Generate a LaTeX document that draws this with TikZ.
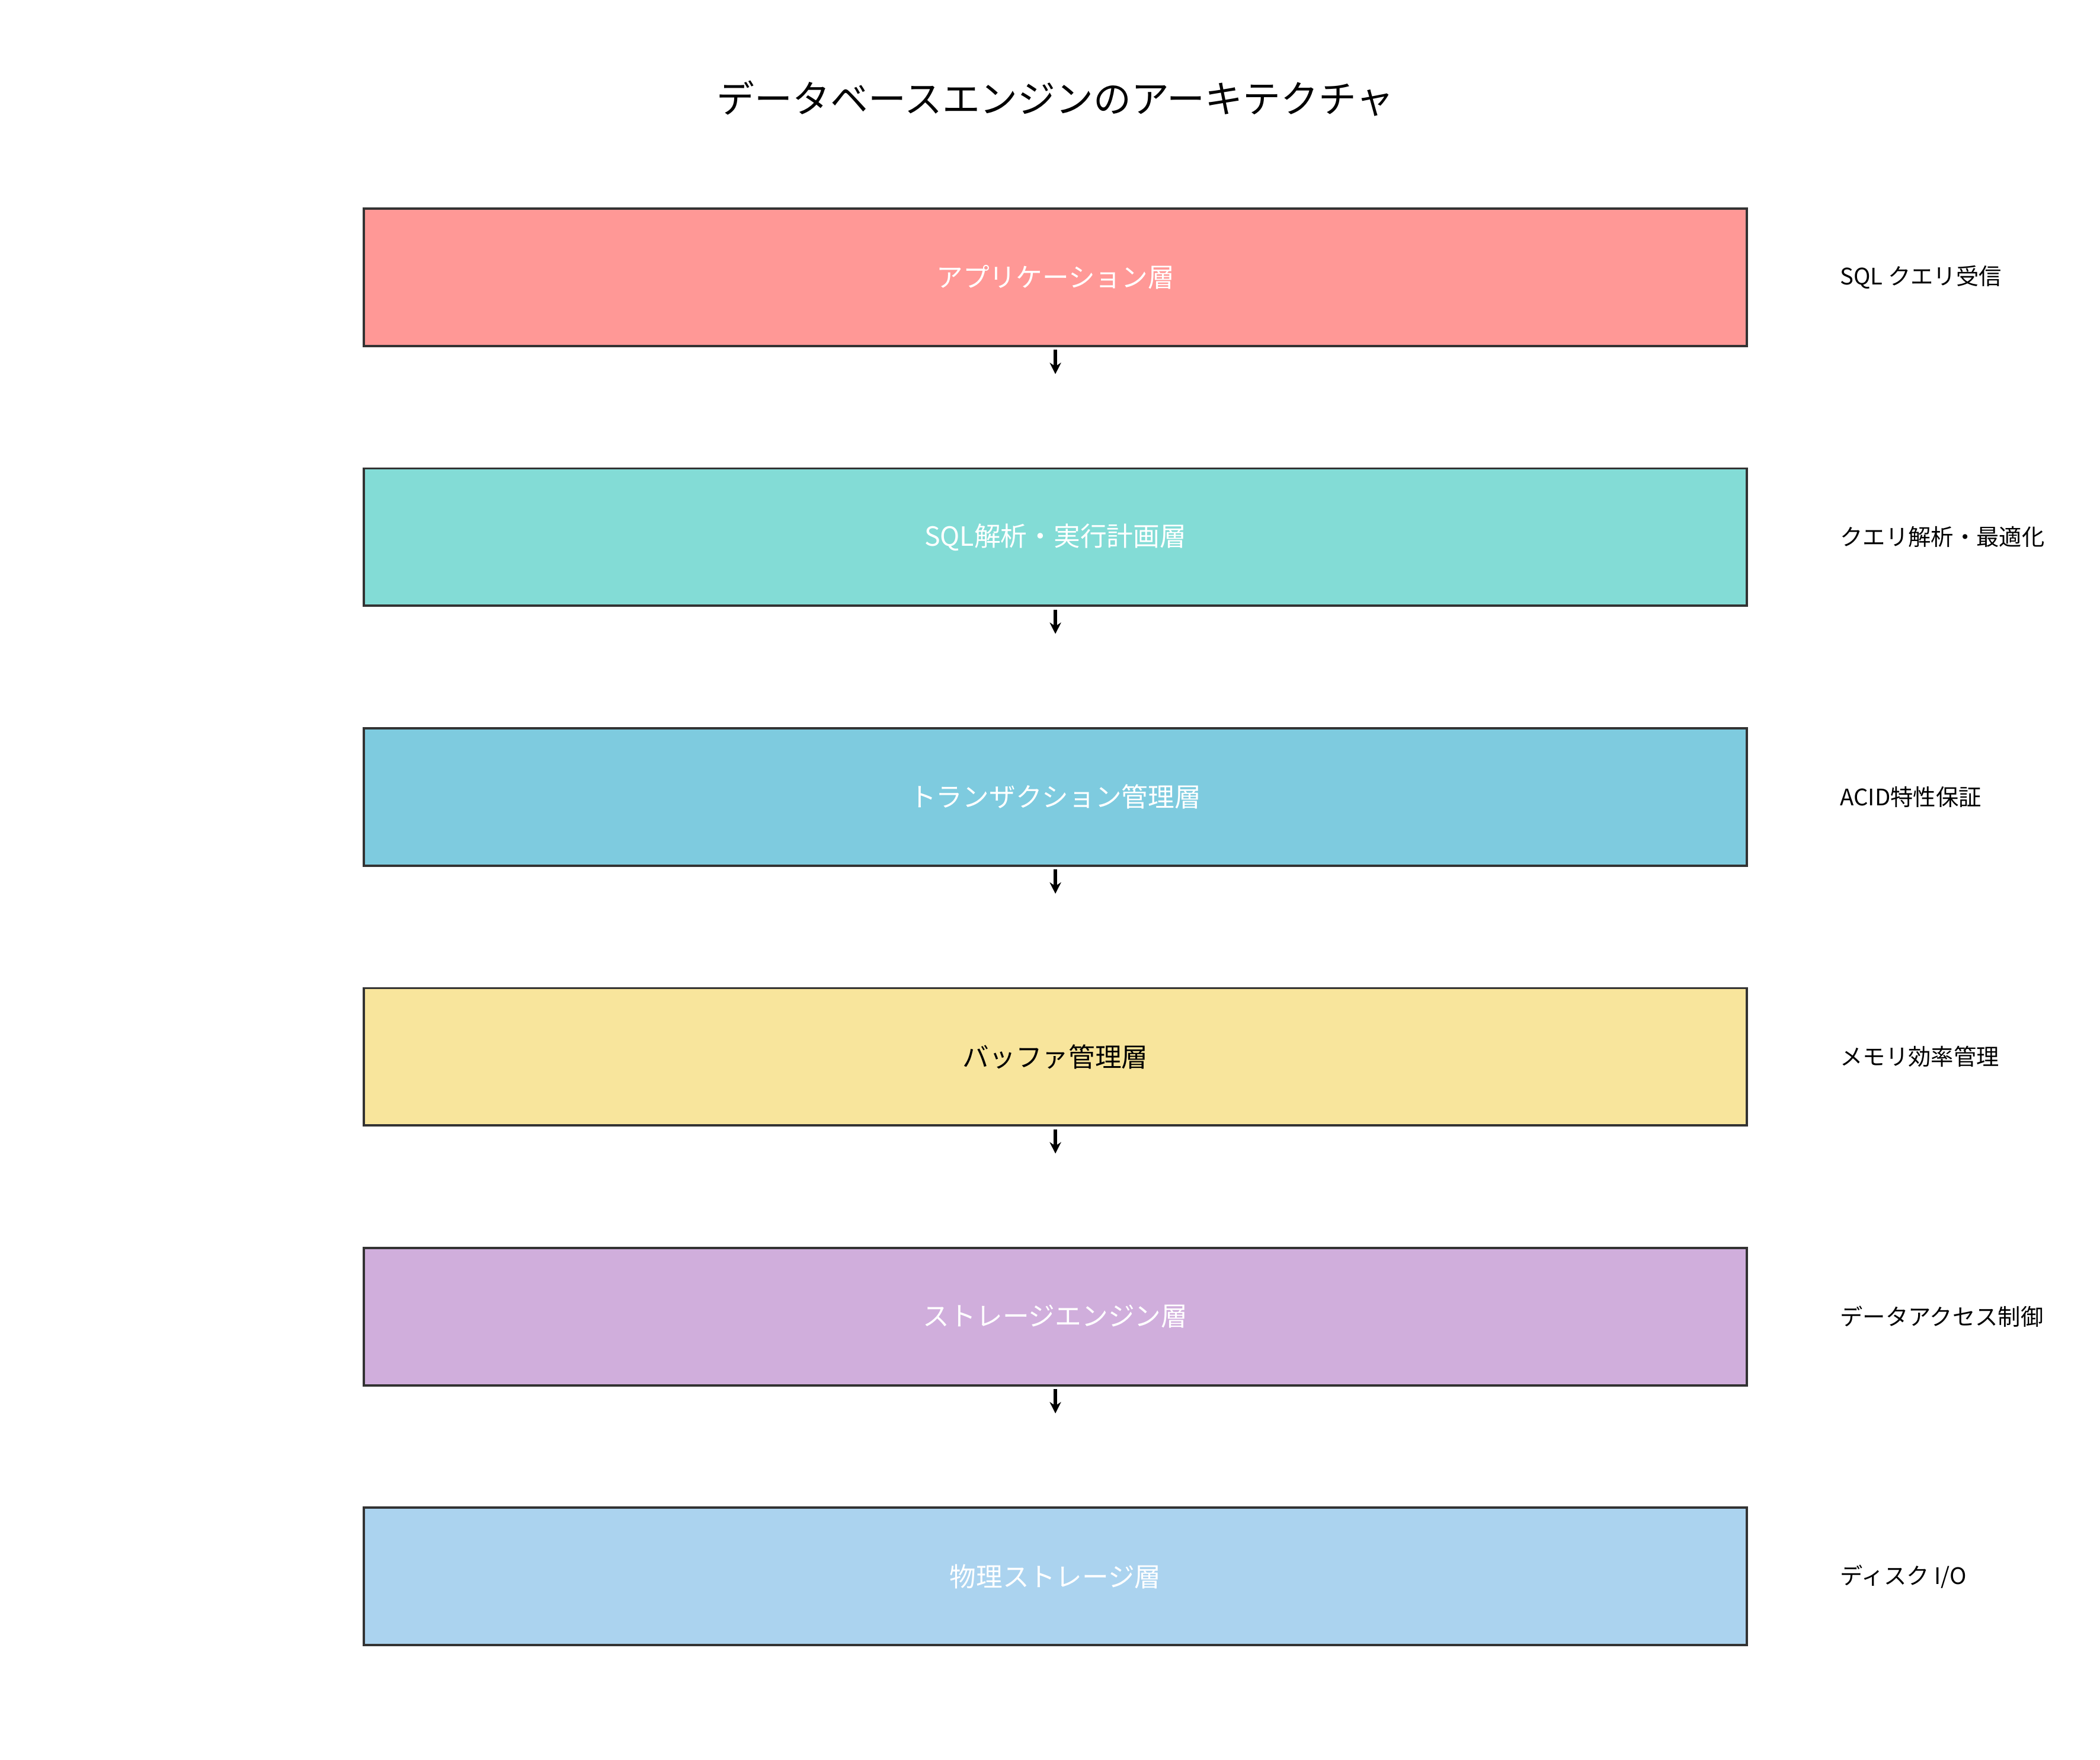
\documentclass[tikz,border=0pt]{standalone}
\usepackage{fontspec}
\setmainfont{Noto Sans CJK JP}
\usetikzlibrary{arrows.meta}
\definecolor{c1}{HTML}{FF9896}
\definecolor{c2}{HTML}{83DCD6}
\definecolor{c3}{HTML}{7ECBDF}
\definecolor{c4}{HTML}{F8E59C}
\definecolor{c5}{HTML}{D0AEDC}
\definecolor{c6}{HTML}{ABD3EF}
\begin{document}
\begin{tikzpicture}[x=0.025cm,y=-0.025cm,
 layer/.style={draw=black!80,line width=1.2pt,minimum width=25.675cm,minimum height=2.55cm,text=white,font=\fontsize{14}{16}\selectfont},
 side/.style={anchor=west,font=\fontsize{12}{14}\selectfont},
 arr/.style={-{Stealth[length=6pt,width=6pt]},line width=2pt}]
\useasboundingbox (0,0) rectangle (1560,1307);
\node[font=\fontsize{20}{24}\selectfont] (title) at (784,73) {データベースエンジンのアーキテクチャ};
\node[layer,fill=c1] (l1) at (784,206) {アプリケーション層};
\node[layer,fill=c2] (l2) at (784,399) {SQL解析・実行計画層};
\node[layer,fill=c3] (l3) at (784,592) {トランザクション管理層};
\node[layer,fill=c4,text=black] (l4) at (784,785) {バッファ管理層};
\node[layer,fill=c5] (l5) at (784,978) {ストレージエンジン層};
\node[layer,fill=c6] (l6) at (784,1171) {物理ストレージ層};
\node[side] (s1) at (1362,206) {SQL クエリ受信};
\node[side] (s2) at (1362,399) {クエリ解析・最適化};
\node[side] (s3) at (1362,592) {ACID特性保証};
\node[side] (s4) at (1362,785) {メモリ効率管理};
\node[side] (s5) at (1362,978) {データアクセス制御};
\node[side] (s6) at (1362,1171) {ディスク I/O};
\foreach \i in {1,...,5}{
 \coordinate (e\i) at ([yshift=-0.5cm]l\i.south);
 \draw[arr] ([yshift=-0.05cm]l\i.south) -- (e\i);}
\end{tikzpicture}
\end{document}
